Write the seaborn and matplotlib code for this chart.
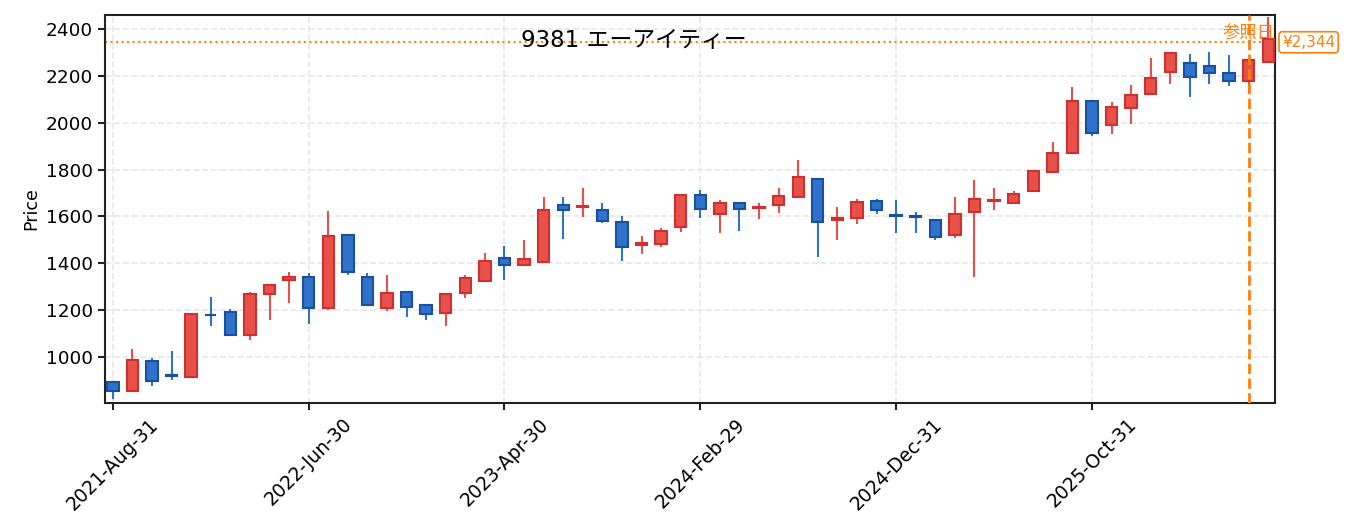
import numpy as np
import pandas as pd
import matplotlib
matplotlib.use('Agg')
import matplotlib.pyplot as plt
import matplotlib.transforms as mtransforms
import seaborn as sns

# monthly OHLC
dates = pd.date_range('2021-08-31', periods=60, freq='ME')
opens = [890, 854, 980, 922, 911, 1180, 1190, 1094, 1266, 1326,
         1340, 1206, 1521, 1340, 1206, 1275, 1220, 1188, 1273, 1324,
         1421, 1393, 1406, 1648, 1638, 1627, 1575, 1478, 1483, 1553,
         1691, 1612, 1658, 1635, 1647, 1684, 1759, 1584, 1594, 1665,
         1607, 1600, 1584, 1521, 1617, 1665, 1658, 1707, 1791, 1869,
         2095, 1992, 2065, 2121, 2216, 2256, 2243, 2213, 2178, 2259]
highs = [892, 1034, 996, 1026, 1185, 1253, 1205, 1277, 1308, 1364,
         1358, 1621, 1525, 1356, 1350, 1277, 1222, 1274, 1347, 1445,
         1475, 1497, 1681, 1681, 1720, 1655, 1600, 1514, 1548, 1691,
         1711, 1671, 1660, 1655, 1720, 1839, 1760, 1638, 1675, 1675,
         1668, 1617, 1584, 1681, 1754, 1720, 1707, 1799, 1917, 2152,
         2095, 2087, 2161, 2276, 2299, 2293, 2302, 2289, 2269, 2452]
lows = [821, 854, 873, 900, 911, 1130, 1094, 1070, 1156, 1228,
        1138, 1200, 1348, 1223, 1196, 1168, 1157, 1130, 1250, 1320,
        1327, 1388, 1406, 1502, 1597, 1573, 1408, 1438, 1468, 1533,
        1592, 1528, 1537, 1588, 1614, 1680, 1425, 1498, 1567, 1609,
        1527, 1527, 1498, 1507, 1340, 1627, 1654, 1707, 1791, 1869,
        1944, 1951, 1995, 2121, 2166, 2111, 2166, 2158, 2129, 2259]
closes = [854, 984, 896, 918, 1181, 1176, 1094, 1267, 1308, 1340,
          1206, 1515, 1360, 1223, 1271, 1214, 1181, 1267, 1335, 1408,
          1390, 1417, 1627, 1625, 1643, 1578, 1467, 1484, 1538, 1691,
          1633, 1658, 1630, 1640, 1687, 1768, 1574, 1591, 1663, 1625,
          1603, 1596, 1510, 1609, 1674, 1670, 1697, 1795, 1871, 2095,
          1958, 2068, 2119, 2192, 2299, 2194, 2211, 2178, 2269, 2356]

ticker_title = '9381 エーアイティー'
ref_index = 58
ref_price = 2344
ref_label = '参照日'

df = pd.DataFrame({'date': dates, 'open': opens, 'high': highs,
                   'low': lows, 'close': closes})
df['x'] = np.arange(len(df))
df['up'] = df['close'] >= df['open']

sns.set_theme(style='whitegrid')
plt.rcParams['font.family'] = ['DejaVu Sans', 'Noto Sans CJK JP']

fig = plt.figure(figsize=(13.55, 5.32), dpi=100)
ax = fig.add_axes([0.0775, 0.2425, 0.8635, 0.7295])
ax.set_facecolor('white')

up_fill, up_edge = '#e8504a', '#d0302f'
dn_fill, dn_edge = '#2e73c9', '#1a4fa3'

for up, fill, edge in [(True, up_fill, up_edge), (False, dn_fill, dn_edge)]:
    d = df[df['up'] == up]
    ax.vlines(d['x'], d['low'], d['high'], color=fill, linewidth=1.5, zorder=2)
    bottom = np.minimum(d['open'], d['close'])
    height = np.abs(d['close'] - d['open'])
    ax.bar(d['x'], height, bottom=bottom, width=0.58, color=fill,
           edgecolor=edge, linewidth=1.5, zorder=3)

# reference date / price
ax.axvline(ref_index, color='#ff7f0e', linestyle='--', linewidth=2, zorder=4)
ax.axhline(ref_price, color='#ff7f0e', linestyle=':', linewidth=1.5, zorder=1)
trans = mtransforms.blended_transform_factory(ax.transData, ax.transAxes)
ax.text(ref_index, 0.951, ref_label, transform=trans, ha='center', va='center',
        color='#ff7f0e', fontsize=12.5, zorder=5)
trans2 = mtransforms.blended_transform_factory(ax.transAxes, ax.transData)
ax.text(1.006, ref_price, f'¥{ref_price:,}', transform=trans2, ha='left',
        va='center', color='#ff7f0e', fontsize=11,
        bbox=dict(boxstyle='round,pad=0.2', fc='white', ec='#ff7f0e', lw=1.2))

ax.text(0.452, 0.933, ticker_title, transform=ax.transAxes, ha='center',
        va='center', fontsize=16.5, color='black')

ax.set_xlim(-0.4, 59.35)
ax.set_ylim(802, 2461)
tick_idx = df['x'][::10]
ax.set_xticks(tick_idx)
ax.set_xticklabels(df['date'][::10].dt.strftime('%Y-%b-%d'), rotation=45,
                   ha='center', fontsize=13.5)
ax.set_yticks(np.arange(1000, 2401, 200))
ax.tick_params(axis='y', labelsize=13.3)
ax.tick_params(axis='both', which='major', direction='out', length=5, width=1.5,
               color='#222222', labelcolor='black', bottom=True, left=True)
ax.set_ylabel('Price', fontsize=12.5, color='black')
ax.set_xlabel('')

ax.grid(True, linestyle='--', color='#e8e8e8', linewidth=1.2)
for s in ax.spines.values():
    s.set_visible(True)
    s.set_color('#222222')
    s.set_linewidth(1.5)

fig.savefig('out.png', dpi=100)
